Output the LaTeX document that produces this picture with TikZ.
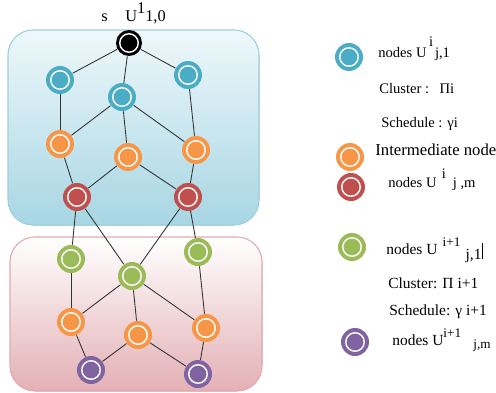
\documentclass[tikz,border=0pt]{standalone}
\usepackage{fontspec}
\setmainfont{Liberation Serif}
\definecolor{cblue}{HTML}{4BACC6}
\definecolor{corange}{HTML}{F79646}
\definecolor{cred}{HTML}{C0504D}
\definecolor{cgreen}{HTML}{9BBB59}
\definecolor{cpurple}{HTML}{8064A2}
\definecolor{boxblueT}{HTML}{EEF8FB}
\definecolor{boxblueB}{HTML}{A7D6E3}
\definecolor{boxblueL}{HTML}{9DCFDD}
\definecolor{boxpinkT}{HTML}{FFFFFF}
\definecolor{boxpinkB}{HTML}{E3B0B5}
\definecolor{boxpinkL}{HTML}{E4A9B0}
\begin{document}
\begin{tikzpicture}[x=0.02cm,y=-0.02cm,
  nd/.style={circle, fill=#1, inner sep=0pt, minimum size=0.56cm,
    path picture={\draw[white, line width=0.8pt] (path picture bounding box.center) circle (0.185cm);}},
  edge/.style={draw=black!80, line width=0.5pt},
  lab/.style={anchor=base west, inner sep=0pt, font=\fontsize{8.3}{10}\selectfont},
  labb/.style={anchor=base west, inner sep=0pt, font=\fontsize{8.8}{10}\selectfont},
  labc/.style={anchor=base west, inner sep=0pt, font=\fontsize{9.5}{11}\selectfont}]
\useasboundingbox (0,0) rectangle (496,392);
% cluster boxes
\fill[top color=boxblueT, bottom color=boxblueB, rounded corners=0.5cm] (8,30) rectangle (259,225);
\draw[boxblueL, line width=0.6pt, rounded corners=0.5cm] (8,30) rectangle (259,225);
\fill[top color=boxpinkT, bottom color=boxpinkB, rounded corners=0.5cm] (10,237) rectangle (262,391);
\draw[boxpinkL, line width=0.6pt, rounded corners=0.5cm] (10,237) rectangle (262,391);
% title
\node[labb, font=\fontsize{9.3}{11}\selectfont] (title) at (101,21) {s\hspace{10pt}U\raisebox{4.5pt}{1}1,0};
% nodes
\node[nd=black, minimum size=0.52cm] (s) at (129,43) {};
\node[nd=cblue] (b1) at (60,80) {};
\node[nd=cblue] (b2) at (122,97) {};
\node[nd=cblue] (b3) at (188,75) {};
\node[nd=corange] (o1) at (60,144) {};
\node[nd=corange] (o2) at (128,157) {};
\node[nd=corange] (o3) at (196,150) {};
\node[nd=cred] (r1) at (77,197) {};
\node[nd=cred] (r2) at (188,197) {};
\node[nd=cgreen] (g1) at (71,259) {};
\node[nd=cgreen] (g2) at (132,276) {};
\node[nd=cgreen] (g3) at (198,252) {};
\node[nd=corange] (p1) at (71,322) {};
\node[nd=corange] (p2) at (138,335) {};
\node[nd=corange] (p3) at (206,328) {};
\node[nd=cpurple] (v1) at (91,370) {};
\node[nd=cpurple] (v2) at (198,374) {};
% edges
\draw[edge] (s) -- (b1);
\draw[edge] (s) -- (b2);
\draw[edge] (s) -- (b3);
\draw[edge] (b1) -- (o1);
\draw[edge] (b2) -- (o1);
\draw[edge] (b2) -- (o2);
\draw[edge] (b2) -- (o3);
\draw[edge] (b3) -- (o3);
\draw[edge] (o1) -- (r1);
\draw[edge] (o2) -- (r1);
\draw[edge] (o2) -- (r2);
\draw[edge] (o3) -- (r2);
\draw[edge] (r1) -- (g1);
\draw[edge] (r1) -- (g2);
\draw[edge] (r2) -- (g2);
\draw[edge] (r2) -- (g3);
\draw[edge] (g1) -- (p1);
\draw[edge] (g2) -- (p1);
\draw[edge] (g2) -- (p2);
\draw[edge] (g2) -- (p3);
\draw[edge] (g3) -- (p3);
\draw[edge] (p1) -- (v1);
\draw[edge] (p2) -- (v1);
\draw[edge] (p2) -- (v2);
\draw[edge] (p3) -- (v2);
% legend
\node[nd=cblue] (lb) at (349,57) {};
\node[lab] (lbt) at (378,57) {nodes U\hspace{1.5pt}\raisebox{6pt}{i}\hspace{1pt}j,1};
\node[lab] (lc1) at (379,93) {Cluster :\hspace{6pt}Πi};
\node[lab] (ls1) at (381,127) {Schedule : γi};
\node[nd=corange] (lo) at (350,157) {};
\node[labc] (lot) at (375,155) {Intermediate node};
\node[nd=cred] (lr) at (351,187) {};
\node[lab] (lrt) at (388,187) {nodes U\hspace{3pt}\raisebox{5pt}{i}\hspace{4pt}j ,m};
\node[nd=cgreen] (lg) at (352,247) {};
\node[labb] (lgt) at (386,254) {nodes U\hspace{3pt}\raisebox{4.5pt}{\fontsize{7.5}{8}\selectfont i+1}\hspace{3pt}\raisebox{-3pt}{j,1}\rule[-3pt]{0.7pt}{9.5pt}};
\node[labb] (lc2) at (388,288) {Cluster: Π i+1};
\node[labb] (ls2) at (389,315) {Schedule: γ i+1};
\node[nd=cpurple] (lv) at (355,342) {};
\node[labb] (lvt) at (392,345) {nodes U\raisebox{4.5pt}{\fontsize{7.5}{8}\selectfont i+1}\hspace{7pt}\raisebox{-2pt}{\fontsize{7.5}{8}\selectfont j,m}};
\end{tikzpicture}
\end{document}
